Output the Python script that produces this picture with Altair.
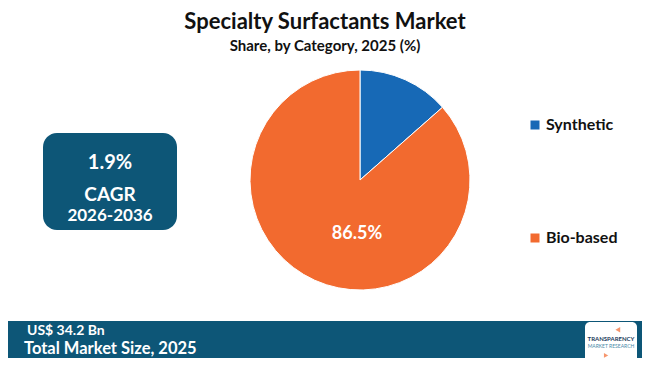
import altair as alt
import pandas as pd

categories = ["Synthetic", "Bio-based"]
shares = [13.5, 86.5]
colors = ["#1769B6", "#F26A2F"]
label_text = "86.5%"

title_text = "Specialty Surfactants Market"
subtitle_text = "Share, by Category, 2025 (%)"
cagr_value = "1.9%"
cagr_label = "CAGR"
cagr_period = "2026-2036"
market_value = "US$ 34.2 Bn"
market_label = "Total Market Size, 2025"

W, H = 634, 350
FONT = "Lato"
DARK = "#0D5677"

df = pd.DataFrame({"category": categories, "share": shares, "order": list(range(len(categories)))})

pie = alt.Chart(df).mark_arc(outerRadius=110, stroke="white", strokeWidth=1).encode(
    theta=alt.Theta("share:Q", stack=True),
    color=alt.Color(
        "category:N",
        scale=alt.Scale(domain=categories, range=colors),
        sort=categories,
        legend=alt.Legend(
            title=None, orient="none", legendX=519, legendY=109,
            symbolType="square", symbolSize=81, symbolStrokeWidth=0,
            labelFont=FONT, labelFontSize=16, labelFontWeight="bold", labelColor="#111111",
            rowPadding=97, padding=0, labelOffset=3,
        ),
    ),
    order=alt.Order("order:Q"),
    x=alt.value(352),
    y=alt.value(172),
)

pie_label = alt.Chart(pd.DataFrame({"t": [label_text]})).mark_text(
    font=FONT, fontSize=18, fontWeight="bold", color="white"
).encode(text="t:N", x=alt.value(349), y=alt.value(226))

def text_layer(txt, x, y, size, color="#111111", align="center", weight="bold"):
    return alt.Chart(pd.DataFrame({"t": [txt]})).mark_text(
        font=FONT, fontSize=size, fontWeight=weight, color=color, align=align, baseline="middle"
    ).encode(text="t:N", x=alt.value(x), y=alt.value(y))

title = text_layer(title_text, 317, 14, 22)
subtitle = text_layer(subtitle_text, 317, 38, 15)

box = alt.Chart(pd.DataFrame({"a": [0]})).mark_rect(color=DARK, cornerRadius=14).encode(
    x=alt.value(35), x2=alt.value(169), y=alt.value(125), y2=alt.value(222)
)
cagr1 = text_layer(cagr_value, 102, 155, 20, "white")
cagr2 = text_layer(cagr_label, 102, 187, 19, "white")
cagr3 = text_layer(cagr_period, 102, 208, 17, "white")

banner = alt.Chart(pd.DataFrame({"a": [0]})).mark_rect(color=DARK).encode(
    x=alt.value(-10), x2=alt.value(W + 10), y=alt.value(313), y2=alt.value(H + 10)
)
mv = text_layer(market_value, 19, 323, 14, "white", align="left")
ml = text_layer(market_label, 16, 341, 16.5, "white", align="left")

logo = alt.Chart(pd.DataFrame({"a": [0]})).mark_rect(color="white", cornerRadius=5).encode(
    x=alt.value(577), x2=alt.value(629), y=alt.value(314), y2=alt.value(356)
)
logo_t1 = text_layer("TRANSPARENCY", 603, 331, 6, "#1A3A5A")
logo_t2 = text_layer("MARKET RESEARCH", 603, 338, 5, "#4A8AA8", weight="normal")
logo_arrow = alt.Chart(pd.DataFrame({"a": [0]})).mark_point(
    shape="triangle-up", filled=True, color="#F26A2F", size=30, angle=30
).encode(x=alt.value(611), y=alt.value(321))
logo_arrow2 = alt.Chart(pd.DataFrame({"a": [0]})).mark_point(
    shape="triangle-down", filled=True, color="#F26A2F", size=25, angle=30
).encode(x=alt.value(597), y=alt.value(348))

chart = alt.layer(
    banner, box, pie, pie_label, title, subtitle, cagr1, cagr2, cagr3, mv, ml,
    logo, logo_t1, logo_t2, logo_arrow, logo_arrow2,
).properties(
    width=W, height=H, padding=0, autosize=alt.AutoSizeParams(type="none"),
).configure_view(stroke=None)

chart.save("out.html", embed_options={"renderer": "svg", "actions": False})
